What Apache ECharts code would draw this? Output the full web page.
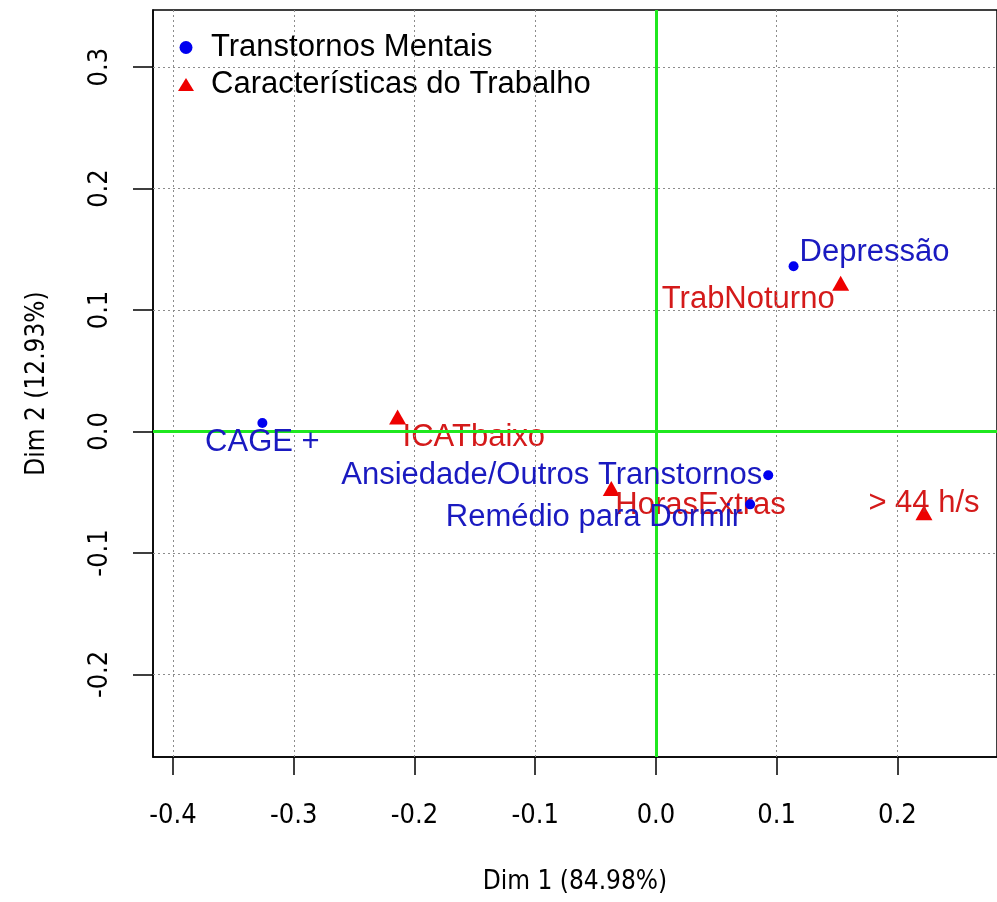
<!DOCTYPE html>
<html>
<head>
<meta charset="utf-8">
<script src="https://cdn.jsdelivr.net/npm/echarts@6/dist/echarts.min.js"></script>
<style>
  html, body { margin: 0; padding: 0; background: #fff; }
  #chart { width: 997px; height: 902px; }
</style>
</head>
<body>
<div id="chart"></div>
<script>
// dados (coordenadas da análise de correspondência)
const mentalNames = ["Depressão", "CAGE +", "Ansiedade/Outros Transtornos", "Remédio para Dormir"];
const mentalX = [0.114, -0.326, 0.093, 0.078];
const mentalY = [0.136, 0.007, -0.036, -0.060];

const trabNames = ["TrabNoturno", "ICATbaixo", "HorasExtras", "> 44 h/s"];
const trabX = [0.153, -0.214, -0.037, 0.222];
const trabY = [0.122, 0.012, -0.047, -0.067];

const xTicks = [-0.4, -0.3, -0.2, -0.1, 0.0, 0.1, 0.2];
const yTicks = [-0.2, -0.1, 0.0, 0.1, 0.2, 0.3];

// posição dos rótulos (estilo, não dados)
const labelPlace = {
  "Depressão": { align: "left", offset: [6, -14] },
  "CAGE +": { align: "center", offset: [0, 19] },
  "Ansiedade/Outros Transtornos": { align: "right", offset: [-6, 0] },
  "Remédio para Dormir": { align: "right", offset: [-8, 13] },
  "TrabNoturno": { align: "right", offset: [-6, 16] },
  "ICATbaixo": { align: "left", offset: [5, 21] },
  "HorasExtras": { align: "left", offset: [4, 17] },
  "> 44 h/s": { align: "center", offset: [0, -9] }
};

function buildPoints(names, xs, ys) {
  return names.map((n, i) => ({
    name: n,
    value: [xs[i], ys[i]],
    label: {
      align: labelPlace[n].align,
      offset: labelPlace[n].offset
    }
  }));
}

const chart = echarts.init(document.getElementById("chart"));
const axisFont = "'Liberation Sans Narrow', 'Arial Narrow', 'DejaVu Sans Condensed', sans-serif";
const textFont = "'Liberation Sans', Arial, sans-serif";
const gridLine = { color: "#8c8c8c", width: 1, type: [2, 3] };

chart.setOption({
  animation: false,
  backgroundColor: "#fff",
  grid: {
    left: 153,
    right: 0,
    top: 10,
    bottom: 145,
    outerBoundsMode: "none",
    show: true,
    borderColor: "#000",
    borderWidth: 1.5,
    backgroundColor: "transparent"
  },
  legend: {
    orient: "vertical",
    left: 173,
    top: 27,
    itemGap: 6,
    itemWidth: 16,
    itemHeight: 13,
    textStyle: {
      fontFamily: textFont,
      fontSize: 31,
      lineHeight: 30,
      color: "#000",
      padding: [0, 0, 0, 12]
    },
    data: [
      { name: "Transtornos Mentais", icon: "circle" },
      { name: "Características do Trabalho", icon: "triangle" }
    ]
  },
  xAxis: {
    type: "value",
    min: -0.4166,
    max: 0.2825,
    name: "Dim 1 (84.98%)",
    nameLocation: "middle",
    nameGap: 112,
    nameTextStyle: { fontFamily: axisFont, fontSize: 26, color: "#000" },
    axisLine: { show: true, onZero: false, lineStyle: { color: "#000", width: 1.5 } },
    axisTick: { show: true, length: 18, customValues: xTicks, lineStyle: { color: "#000", width: 1.5 } },
    axisLabel: {
      customValues: xTicks,
      margin: 45,
      fontFamily: axisFont,
      fontSize: 27,
      color: "#000",
      formatter: v => v.toFixed(1)
    },
    splitLine: { show: false }
  },
  yAxis: {
    type: "value",
    min: -0.268,
    max: 0.347,
    name: "Dim 2 (12.93%)",
    nameLocation: "middle",
    nameGap: 103,
    nameTextStyle: { fontFamily: axisFont, fontSize: 26, color: "#000" },
    axisLine: { show: true, onZero: false, lineStyle: { color: "#000", width: 1.5 } },
    axisTick: { show: true, length: 20, customValues: yTicks, lineStyle: { color: "#000", width: 1.5 } },
    axisLabel: {
      customValues: yTicks,
      rotate: 90,
      margin: 40,
      fontFamily: axisFont,
      fontSize: 27,
      color: "#000",
      formatter: v => v.toFixed(1)
    },
    splitLine: { show: false }
  },
  series: [
    {
      // grade pontilhada e eixos verdes em zero
      type: "scatter",
      name: "grid",
      data: [],
      silent: true,
      markLine: {
        silent: true,
        symbol: "none",
        label: { show: false },
        lineStyle: gridLine,
        data: xTicks.map(v => ({ xAxis: v }))
          .concat(yTicks.map(v => ({ yAxis: v })))
          .concat([
            { xAxis: 0, lineStyle: { color: "#1fe81f", width: 3, type: "solid" } },
            { yAxis: 0, lineStyle: { color: "#1fe81f", width: 3, type: "solid" } }
          ])
      }
    },
    {
      name: "Transtornos Mentais",
      type: "scatter",
      symbol: "circle",
      symbolSize: 10,
      itemStyle: { color: "#0000f0", opacity: 1 },
      label: {
        show: true,
        position: "inside",
        verticalAlign: "middle",
        formatter: p => p.name,
        fontFamily: textFont,
        fontSize: 31,
        color: "#1a1ac0"
      },
      data: buildPoints(mentalNames, mentalX, mentalY),
      z: 5
    },
    {
      name: "Características do Trabalho",
      type: "scatter",
      symbol: "triangle",
      symbolSize: [17, 15],
      itemStyle: { color: "#ee0000", opacity: 1 },
      label: {
        show: true,
        position: "inside",
        verticalAlign: "middle",
        formatter: p => p.name,
        fontFamily: textFont,
        fontSize: 31,
        color: "#d41a1a"
      },
      data: buildPoints(trabNames, trabX, trabY),
      z: 4
    }
  ]
});
</script>
</body>
</html>
